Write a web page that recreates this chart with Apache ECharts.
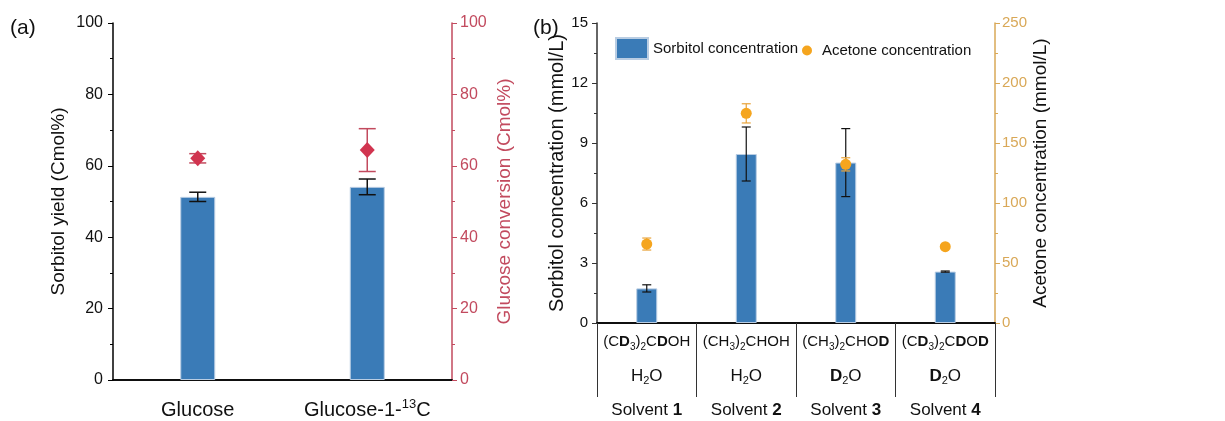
<!DOCTYPE html>
<html><head><meta charset="utf-8">
<script src="https://cdn.jsdelivr.net/npm/echarts@6/dist/echarts.min.js"></script>
<style>html,body{margin:0;padding:0;background:#fff}#c{width:1225px;height:421px}</style>
</head><body><div id="c"></div>
<script>
// ---------- Data: panel (a) ----------
const catsA = ['Glucose', 'Glucose-1-^13^C'];
const sorbitolYield = [51.3, 54.1];
const sorbitolYieldErr = [1.3, 2.2];
const glucoseConversion = [62.1, 64.4];
const glucoseConversionErr = [1.3, 6.0];
const ticksA = [0, 20, 40, 60, 80, 100];

// ---------- Data: panel (b) ----------
const solventFormula = ['(C*D*_3_)_2_C*D*OH', '(CH_3_)_2_CHOH', '(CH_3_)_2_CHO*D*', '(C*D*_3_)_2_C*D*O*D*'];
const solventWater = ['H_2_O', 'H_2_O', '*D*_2_O', '*D*_2_O'];
const solventName = ['Solvent *1*', 'Solvent *2*', 'Solvent *3*', 'Solvent *4*'];
const sorbitolConc = [1.73, 8.45, 8.02, 2.57];
const sorbitolConcErr = [0.18, 1.35, 1.7, 0.03];
const acetoneConc = [65.8, 174.7, 132.2, 63.6];
const acetoneConcErr = [5.0, 8.0, 5.5, 0];
const ticksBLeft = [0, 3, 6, 9, 12, 15];
const ticksBRight = [0, 50, 100, 150, 200, 250];

// ---------- helpers ----------
function toRich(s, p) {
  p = p || '';
  let out = '', bold = false, sub = false, sup = false, buf = '';
  const flush = () => { if (buf) { out += '{' + p + (sub ? 's' : sup ? 'u' : (bold ? 'b' : 'n')) + '|' + buf + '}'; buf = ''; } };
  for (const ch of s) {
    if (ch === '*') { flush(); bold = !bold; }
    else if (ch === '_') { flush(); sub = !sub; }
    else if (ch === '^') { flush(); sup = !sup; }
    else buf += ch;
  }
  flush();
  return out;
}
function errRender(capW, color, lw) {
  return function (params, api) {
    const x = api.value(0), lo = api.value(1), hi = api.value(2);
    const a = api.coord([x, hi]), b = api.coord([x, lo]);
    const st = { stroke: color, lineWidth: lw };
    return { type: 'group', children: [
      { type: 'line', shape: { x1: a[0], y1: a[1], x2: b[0], y2: b[1] }, style: st },
      { type: 'line', shape: { x1: a[0] - capW / 2, y1: a[1], x2: a[0] + capW / 2, y2: a[1] }, style: st },
      { type: 'line', shape: { x1: b[0] - capW / 2, y1: b[1], x2: b[0] + capW / 2, y2: b[1] }, style: st }
    ]};
  };
}
const errData = (v, e) => v.map((val, i) => [i, val - e[i], val + e[i]]);

const SANS = '"Liberation Sans", Arial, sans-serif';
const BLUE = '#3A7BB7';
const RED = '#D1344F';
const REDAX = '#C24A5E';
const ORANGE = '#F5A51E';
const TAN = '#D9A857';
const TXT = '#111';

const chart = echarts.init(document.getElementById('c'), null, { renderer: 'canvas' });
chart.setOption({
  animation: false,
  backgroundColor: '#fff',
  graphic: [
    { type: 'text', left: 10, top: 18, style: { text: '(a)', font: '21px ' + SANS, fill: TXT } },
    { type: 'text', left: 533, top: 18, style: { text: '(b)', font: '21px ' + SANS, fill: TXT } }
  ],
  grid: [
    { left: 113, right: 773, top: 23, bottom: 41 },
    { left: 597, right: 230, top: 23, bottom: 98 }
  ],
  legend: [
    { data: [{ name: 'Sorbitol concentration', icon: 'rect' }], left: 615, top: 37, padding: 0, itemWidth: 32, itemHeight: 21,
      textStyle: { fontFamily: SANS, fontSize: 15, color: TXT } },
    { data: ['Acetone concentration'], left: 802, top: 43, padding: 0, itemWidth: 20, itemHeight: 10,
      textStyle: { fontFamily: SANS, fontSize: 15, color: TXT } }
  ],
  xAxis: [
    { type: 'category', gridIndex: 0, data: catsA.map(c => toRich(c)),
      axisLine: { lineStyle: { color: '#000', width: 1.5 } }, axisTick: { show: false },
      axisLabel: { interval: 0, margin: 18, formatter: v => v,
        rich: {
          n: { fontFamily: SANS, fontSize: 20, color: TXT, lineHeight: 24 },
          u: { fontFamily: SANS, fontSize: 13, color: TXT, lineHeight: 14, verticalAlign: 'top' }
        } } },
    { type: 'value', gridIndex: 0, position: 'top', axisLine: { show: true, lineStyle: { color: '#000', width: 1.5 } },
      axisTick: { show: false }, axisLabel: { show: false }, splitLine: { show: false } },
    { type: 'category', gridIndex: 1,
      data: solventFormula.map((f, i) => toRich(f) + '\n' + toRich(solventWater[i], 'w') + '\n' + toRich(solventName[i], 'v')),
      axisLine: { lineStyle: { color: '#000', width: 1.5 } },
      axisTick: { show: true, interval: 0, length: 74, lineStyle: { color: '#333', width: 1 } },
      axisLabel: { interval: 0, margin: 2, formatter: v => v,
        rich: {
          n: { fontFamily: SANS, fontSize: 15, color: TXT, lineHeight: 34 },
          b: { fontFamily: SANS, fontSize: 15, color: TXT, lineHeight: 34, fontWeight: 'bold' },
          s: { fontFamily: SANS, fontSize: 10, color: TXT, padding: [10, 0, 0, 0] },
          wn: { fontFamily: SANS, fontSize: 17, color: TXT, lineHeight: 34 },
          wb: { fontFamily: SANS, fontSize: 17, color: TXT, lineHeight: 34, fontWeight: 'bold' },
          ws: { fontFamily: SANS, fontSize: 11, color: TXT, padding: [10, 0, 0, 0] },
          vn: { fontFamily: SANS, fontSize: 17, color: TXT, lineHeight: 34 },
          vb: { fontFamily: SANS, fontSize: 17, color: TXT, lineHeight: 34, fontWeight: 'bold' }
        } } },
    { type: 'value', gridIndex: 1, position: 'top', axisLine: { show: true, lineStyle: { color: '#000', width: 1.5 } },
      axisTick: { show: false }, axisLabel: { show: false }, splitLine: { show: false } }
  ],
  yAxis: [
    { type: 'value', gridIndex: 0, min: ticksA[0], max: ticksA[ticksA.length - 1], interval: ticksA[1] - ticksA[0],
      name: 'Sorbitol yield (Cmol%)', nameLocation: 'middle', nameGap: 45,
      nameTextStyle: { fontFamily: SANS, fontSize: 19, color: TXT },
      axisLine: { show: true, lineStyle: { color: '#000', width: 1.5 } },
      axisTick: { show: true, length: 5, lineStyle: { color: '#000' } },
      minorTick: { show: true, splitNumber: 2, length: 3, lineStyle: { color: '#000' } },
      axisLabel: { margin: 10, fontFamily: SANS, fontSize: 16, color: TXT }, splitLine: { show: false } },
    { type: 'value', gridIndex: 0, position: 'right', min: ticksA[0], max: ticksA[ticksA.length - 1], interval: ticksA[1] - ticksA[0],
      name: 'Glucose conversion (Cmol%)', nameLocation: 'middle', nameGap: 43,
      nameTextStyle: { fontFamily: SANS, fontSize: 19, color: REDAX },
      axisLine: { show: true, lineStyle: { color: REDAX, width: 1.5 } },
      axisTick: { show: true, length: 5, lineStyle: { color: REDAX } },
      minorTick: { show: true, splitNumber: 2, length: 3, lineStyle: { color: REDAX } },
      axisLabel: { margin: 8, fontFamily: SANS, fontSize: 16, color: REDAX }, splitLine: { show: false } },
    { type: 'value', gridIndex: 1, min: ticksBLeft[0], max: ticksBLeft[ticksBLeft.length - 1], interval: ticksBLeft[1] - ticksBLeft[0],
      name: 'Sorbitol concentration (mmol/L)', nameLocation: 'middle', nameGap: 16,
      nameTextStyle: { fontFamily: SANS, fontSize: 20, color: TXT },
      axisLine: { show: true, lineStyle: { color: '#333', width: 1.5 } },
      axisTick: { show: true, length: 5, lineStyle: { color: '#333' } },
      minorTick: { show: true, splitNumber: 2, length: 3, lineStyle: { color: '#333' } },
      axisLabel: { margin: 9, fontFamily: SANS, fontSize: 15, color: TXT }, splitLine: { show: false } },
    { type: 'value', gridIndex: 1, position: 'right', min: ticksBRight[0], max: ticksBRight[ticksBRight.length - 1], interval: ticksBRight[1] - ticksBRight[0],
      name: 'Acetone concentration (mmol/L)', nameLocation: 'middle', nameGap: 32,
      nameTextStyle: { fontFamily: SANS, fontSize: 19, color: TXT },
      axisLine: { show: true, lineStyle: { color: TAN, width: 1.5 } },
      axisTick: { show: true, length: 5, lineStyle: { color: TAN } },
      minorTick: { show: true, splitNumber: 2, length: 3, lineStyle: { color: TAN } },
      axisLabel: { margin: 7, fontFamily: SANS, fontSize: 15, color: TAN }, splitLine: { show: false } }
  ],
  series: [
    { type: 'bar', xAxisIndex: 0, yAxisIndex: 0, data: sorbitolYield, barWidth: 35,
      itemStyle: { color: BLUE, borderColor: '#B9CDE3', borderWidth: 1 } },
    { type: 'custom', xAxisIndex: 0, yAxisIndex: 0, data: errData(sorbitolYield, sorbitolYieldErr),
      renderItem: errRender(17, '#111', 1.5), encode: { x: 0, y: [1, 2] }, z: 3 },
    { type: 'custom', xAxisIndex: 0, yAxisIndex: 1, data: errData(glucoseConversion, glucoseConversionErr),
      renderItem: errRender(17, REDAX, 1.5), encode: { x: 0, y: [1, 2] }, z: 3 },
    { type: 'scatter', xAxisIndex: 0, yAxisIndex: 1, data: glucoseConversion, symbol: 'diamond', symbolSize: [15, 16],
      itemStyle: { color: RED, opacity: 1 }, z: 4 },
    { type: 'bar', name: 'Sorbitol concentration', xAxisIndex: 2, yAxisIndex: 2, data: sorbitolConc, barWidth: 21,
      itemStyle: { color: BLUE, borderColor: '#B9CDE3', borderWidth: 1 } },
    { type: 'custom', xAxisIndex: 2, yAxisIndex: 2, data: errData(sorbitolConc, sorbitolConcErr),
      renderItem: errRender(9, '#111', 1.2), encode: { x: 0, y: [1, 2] }, z: 3 },
    { type: 'custom', xAxisIndex: 2, yAxisIndex: 3, data: errData(acetoneConc, acetoneConcErr),
      renderItem: errRender(9, '#E8A33A', 1.2), encode: { x: 0, y: [1, 2] }, z: 4 },
    { type: 'scatter', name: 'Acetone concentration', xAxisIndex: 2, yAxisIndex: 3, data: acetoneConc, symbol: 'circle', symbolSize: 11,
      itemStyle: { color: ORANGE, opacity: 1 }, z: 5 }
  ]
});
</script></body></html>
